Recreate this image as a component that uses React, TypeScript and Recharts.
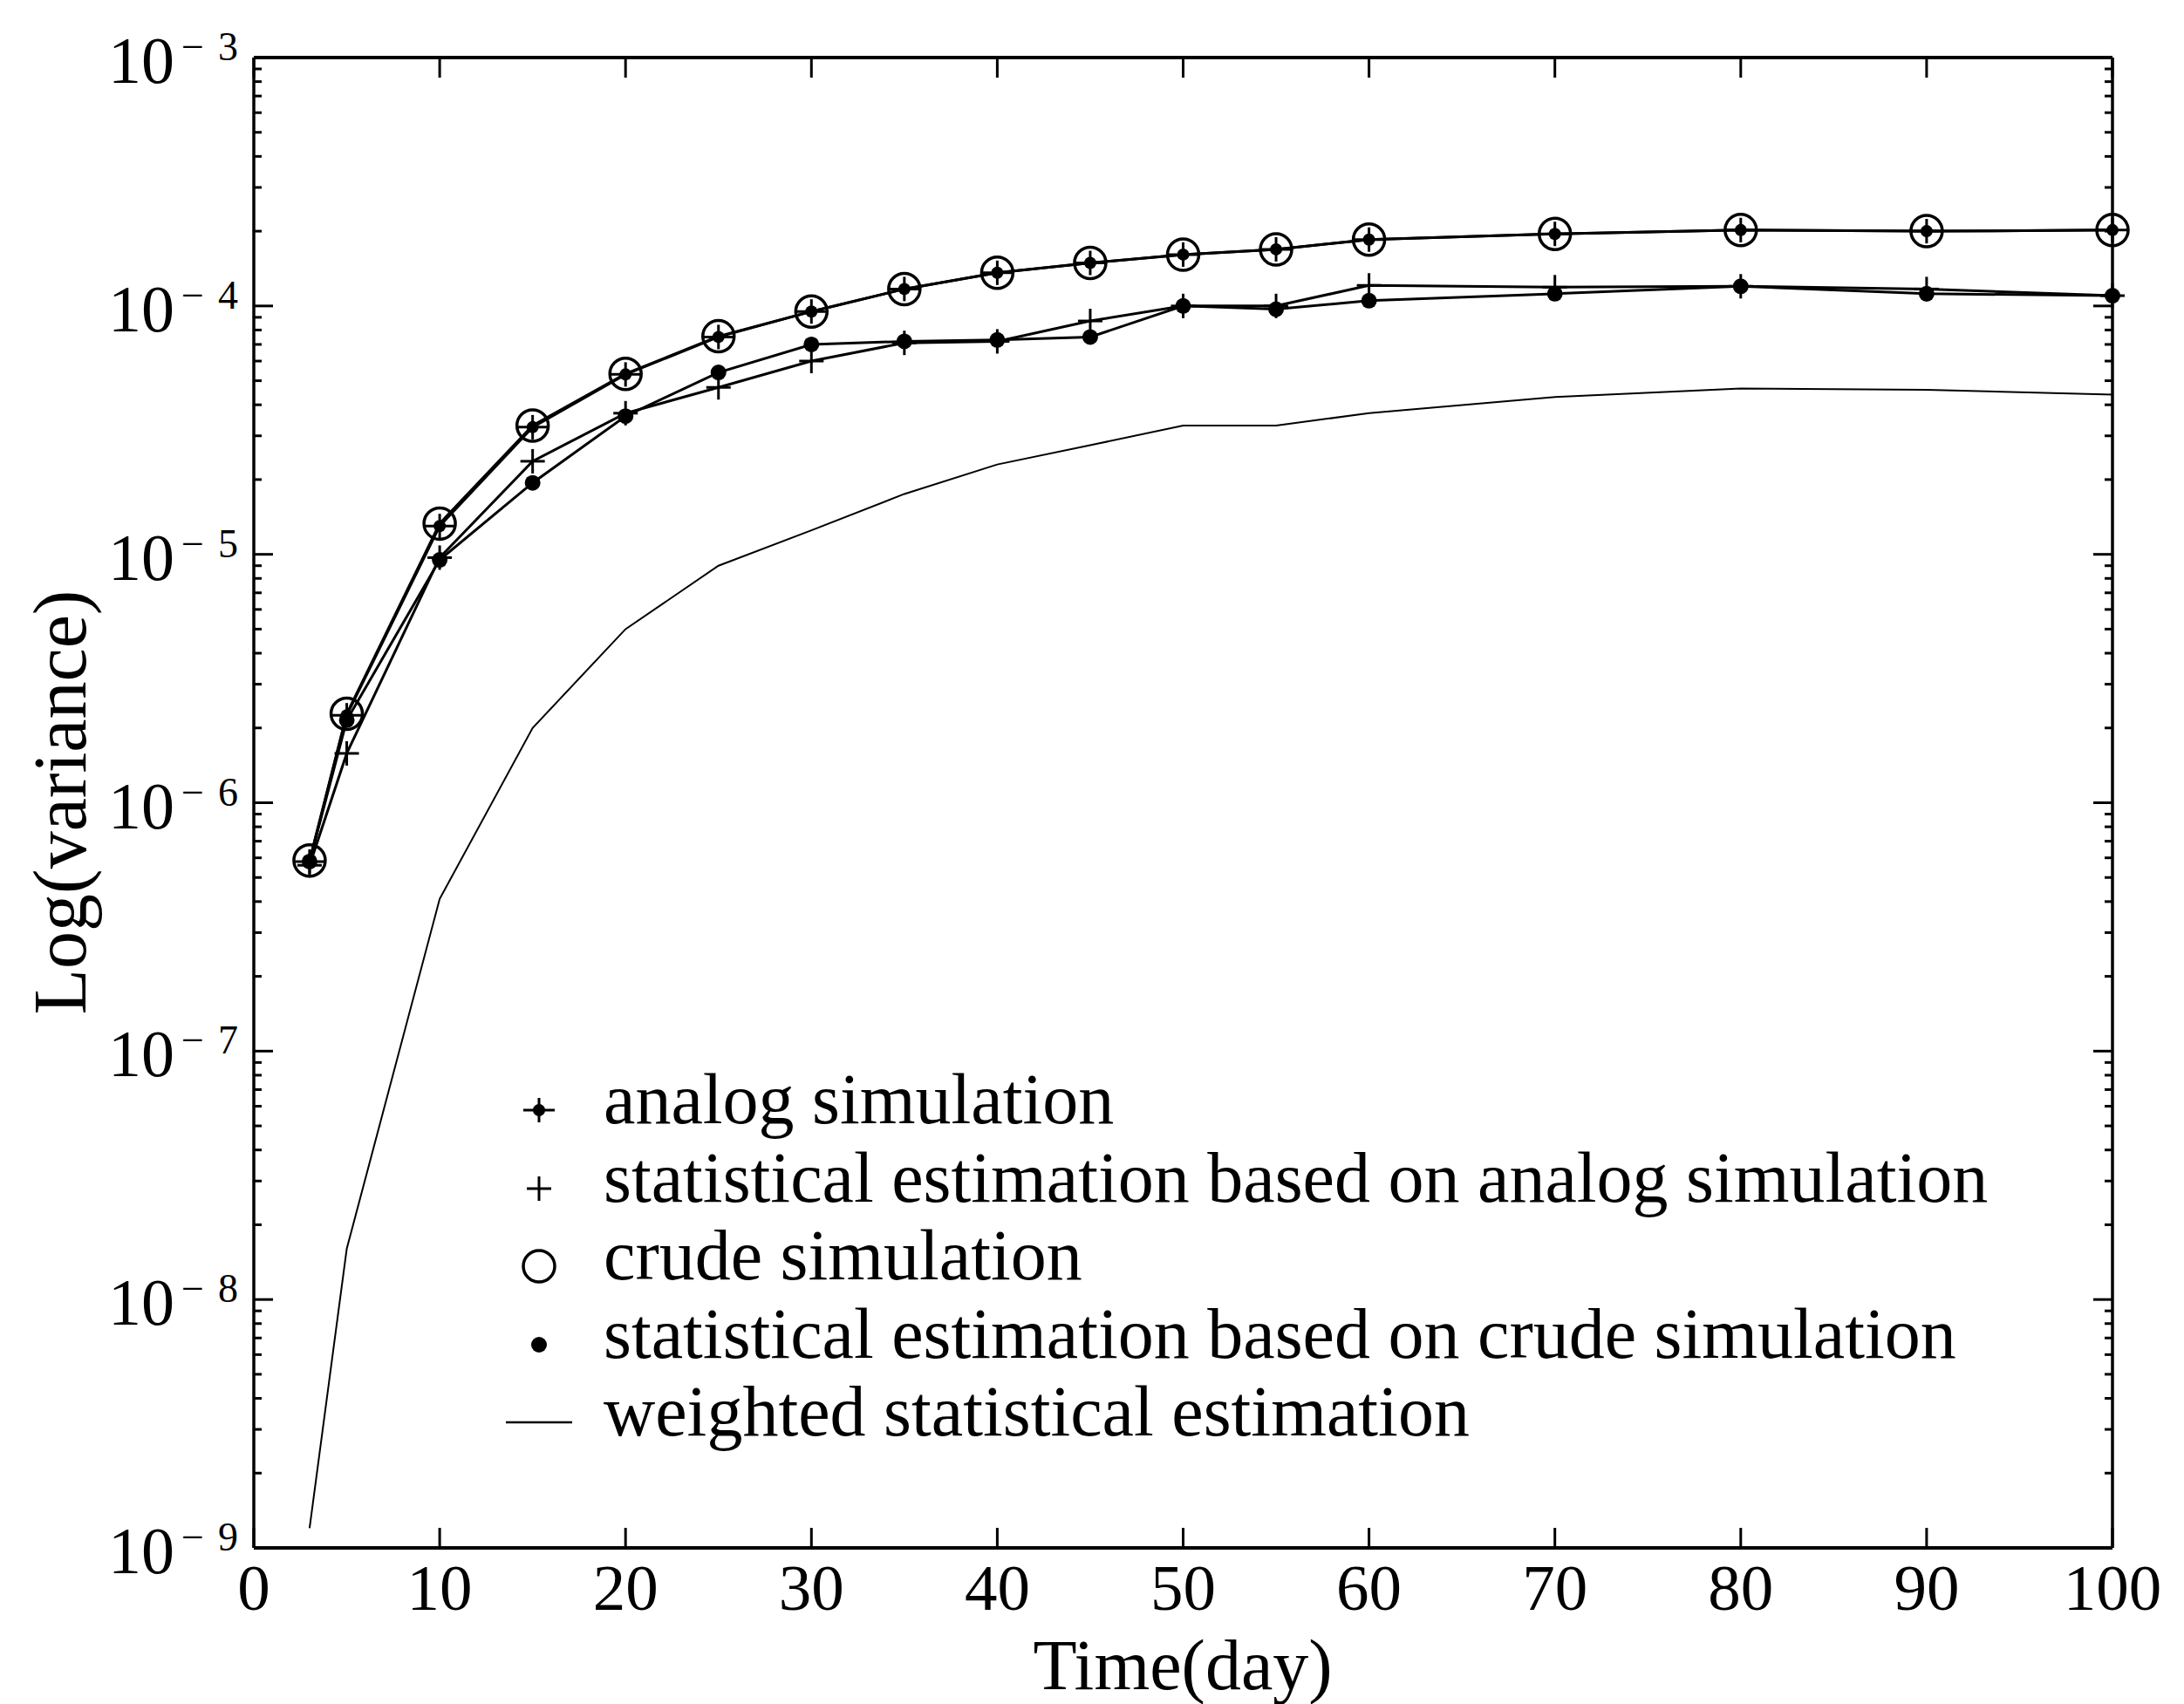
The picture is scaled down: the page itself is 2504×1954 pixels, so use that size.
import React from 'react';
import { LineChart, Line, XAxis, YAxis, Legend, Label } from 'recharts';

const FONT = '"Liberation Serif", "Times New Roman", serif';

// sampling days (x axis)
const days = [3, 5, 10, 15, 20, 25, 30, 35, 40, 45, 50, 55, 60, 70, 80, 90, 100];

// variance values
const analogSimulation = [5.8e-7, 2.25e-6, 1.3e-5, 3.25e-5, 5.3e-5, 7.5e-5, 9.5e-5, 1.17e-4, 1.36e-4, 1.49e-4, 1.61e-4, 1.69e-4, 1.85e-4, 1.95e-4, 2.02e-4, 2.0e-4, 2.02e-4];
const statAnalog = [5.6e-7, 1.58e-6, 9.7e-6, 2.37e-5, 3.7e-5, 4.7e-5, 6.0e-5, 7.1e-5, 7.2e-5, 8.7e-5, 1.0e-4, 1.0e-4, 1.21e-4, 1.19e-4, 1.2e-4, 1.17e-4, 1.1e-4];
const crudeSimulation = [5.85e-7, 2.28e-6, 1.33e-5, 3.3e-5, 5.33e-5, 7.55e-5, 9.5e-5, 1.17e-4, 1.36e-4, 1.49e-4, 1.61e-4, 1.69e-4, 1.85e-4, 1.95e-4, 2.02e-4, 2.0e-4, 2.02e-4];
const statCrude = [5.8e-7, 2.15e-6, 9.5e-6, 1.94e-5, 3.6e-5, 5.4e-5, 7.0e-5, 7.2e-5, 7.3e-5, 7.5e-5, 1.0e-4, 9.7e-5, 1.05e-4, 1.12e-4, 1.2e-4, 1.12e-4, 1.1e-4];
const weightedEstimation = [1.2e-9, 1.6e-8, 4.1e-7, 2.0e-6, 5.0e-6, 9.0e-6, 1.25e-5, 1.75e-5, 2.3e-5, 2.75e-5, 3.3e-5, 3.3e-5, 3.7e-5, 4.3e-5, 4.65e-5, 4.6e-5, 4.4e-5];

const xTicks = [0, 10, 20, 30, 40, 50, 60, 70, 80, 90, 100];
const yMajorTicks = [1e-9, 1e-8, 1e-7, 1e-6, 1e-5, 1e-4, 1e-3];
const yMinorTicks: number[] = [];
yMajorTicks.slice(0, -1).forEach((d) => {
  for (let m = 2; m <= 9; m++) yMinorTicks.push(m * d);
});
const yTicks = [...yMajorTicks, ...yMinorTicks];

const legendNames = [
  'analog simulation',
  'statistical estimation based on analog simulation',
  'crude simulation',
  'statistical estimation based on crude simulation',
  'weighted statistical estimation',
];
const legendMarkers = ['star', 'plus', 'circle', 'dot', 'line'];

const data = days.map((day, i) => ({
  day,
  analog: analogSimulation[i],
  statAnalog: statAnalog[i],
  crude: crudeSimulation[i],
  statCrude: statCrude[i],
  weighted: weightedEstimation[i],
}));

const renderMarker = (kind: string, cx: number, cy: number) => {
  switch (kind) {
    case 'star':
      return (
        <g>
          <circle cx={cx} cy={cy} r={7} fill="#000" />
          <line x1={cx - 18} y1={cy} x2={cx + 18} y2={cy} stroke="#000" strokeWidth={3} />
          <line x1={cx} y1={cy - 14} x2={cx} y2={cy + 14} stroke="#000" strokeWidth={3} />
        </g>
      );
    case 'plus':
      return (
        <g>
          <line x1={cx - 14} y1={cy} x2={cx + 14} y2={cy} stroke="#000" strokeWidth={3} />
          <line x1={cx} y1={cy - 14} x2={cx} y2={cy + 14} stroke="#000" strokeWidth={3} />
        </g>
      );
    case 'circle':
      return <circle cx={cx} cy={cy} r={18} fill="none" stroke="#000" strokeWidth={3.5} />;
    case 'dot':
      return <circle cx={cx} cy={cy} r={9} fill="#000" />;
    default:
      return <line x1={cx - 38} y1={cy} x2={cx + 38} y2={cy} stroke="#000" strokeWidth={2.5} />;
  }
};

const dotOf = (kind: string) => (p: any) => (
  <g key={`${kind}-${p.index}`}>{renderMarker(kind, p.cx, p.cy)}</g>
);

const isMajor = (v: number) => {
  const e = Math.log10(v);
  return Math.abs(e - Math.round(e)) < 1e-6;
};

const LeftTick = (props: any) => {
  const { x, y, payload } = props;
  const v = payload.value;
  const major = isMajor(v);
  return (
    <g>
      <line x1={x} y1={y} x2={x + (major ? 22 : 9)} y2={y} stroke="#000" strokeWidth={3} />
      {major && (
        <g fontFamily={FONT} fill="#000">
          <text x={x - 91} y={y + 29} textAnchor="end" fontSize={76}>10</text>
          <text x={x - 83} y={y + 3} fontSize={46}>
            −<tspan dx={16}>{-Math.round(Math.log10(v))}</tspan>
          </text>
        </g>
      )}
    </g>
  );
};

const RightTick = (props: any) => {
  const { x, y, payload } = props;
  const major = isMajor(payload.value);
  return <line x1={x} y1={y} x2={x - (major ? 22 : 9)} y2={y} stroke="#000" strokeWidth={3} />;
};

const BottomTick = (props: any) => {
  const { x, y, payload } = props;
  return (
    <g>
      <line x1={x} y1={y} x2={x} y2={y - 23} stroke="#000" strokeWidth={3} />
      <text x={x} y={y + 71} textAnchor="middle" fontSize={75} fontFamily={FONT} fill="#000">
        {payload.value}
      </text>
    </g>
  );
};

const TopTick = (props: any) => {
  const { x, y } = props;
  return <line x1={x} y1={y} x2={x} y2={y + 23} stroke="#000" strokeWidth={3} />;
};

const LegendBox = () => (
  <div style={{ fontFamily: FONT, fontSize: 82, color: '#000' }}>
    {legendNames.map((name, i) => (
      <div key={name} style={{ display: 'flex', height: 89.5, lineHeight: '89.5px', whiteSpace: 'nowrap' }}>
        <svg width={132} height={89.5} style={{ flex: 'none' }}>
          {renderMarker(legendMarkers[i], 58, 57)}
        </svg>
        <span>{name}</span>
      </div>
    ))}
  </div>
);

const App: React.FC = () => {
  return (
    <div style={{ background: '#fff', width: 2504, height: 1954 }}>
      <style>{'body{margin:0;background:#fff}'}</style>
      <LineChart
        width={2504}
        height={1954}
        data={data}
        margin={{ top: 65, right: 81, bottom: 29, left: 0 }}
      >
        <XAxis
          dataKey="day"
          type="number"
          domain={[0, 100]}
          ticks={xTicks}
          interval={0}
          height={150}
          axisLine={{ stroke: '#000', strokeWidth: 4 }}
          tickLine={false}
          tickSize={0}
          tickMargin={0}
          tick={<BottomTick />}
        >
          <Label
            content={() => (
              <text x={1356} y={1937} textAnchor="middle" fontSize={82} fontFamily={FONT} fill="#000">
                Time(day)
              </text>
            )}
          />
        </XAxis>
        <XAxis
          xAxisId="top"
          orientation="top"
          dataKey="day"
          type="number"
          domain={[0, 100]}
          ticks={xTicks}
          interval={0}
          height={1}
          axisLine={{ stroke: '#000', strokeWidth: 4 }}
          tickLine={false}
          tickSize={0}
          tickMargin={0}
          tick={<TopTick />}
        />
        <YAxis
          scale="log"
          type="number"
          domain={[1e-9, 1e-3]}
          allowDataOverflow
          ticks={yTicks}
          interval={0}
          width={291}
          axisLine={{ stroke: '#000', strokeWidth: 3.5 }}
          tickLine={false}
          tickSize={0}
          tickMargin={0}
          tick={<LeftTick />}
        >
          <Label
            content={() => (
              <text
                x={98}
                y={920}
                transform="rotate(-90 98 920)"
                textAnchor="middle"
                fontSize={86}
                fontFamily={FONT}
                fill="#000"
              >
                Log(variance)
              </text>
            )}
          />
        </YAxis>
        <YAxis
          yAxisId="right"
          orientation="right"
          scale="log"
          type="number"
          domain={[1e-9, 1e-3]}
          allowDataOverflow
          ticks={yTicks}
          interval={0}
          width={1}
          axisLine={{ stroke: '#000', strokeWidth: 3.5 }}
          tickLine={false}
          tickSize={0}
          tickMargin={0}
          tick={<RightTick />}
        />
        <Line
          dataKey="weighted"
          type="linear"
          stroke="#000"
          strokeWidth={2}
          dot={false}
          activeDot={false}
          isAnimationActive={false}
        />
        <Line
          dataKey="statCrude"
          type="linear"
          stroke="#000"
          strokeWidth={3}
          dot={dotOf('dot')}
          activeDot={false}
          isAnimationActive={false}
        />
        <Line
          dataKey="statAnalog"
          type="linear"
          stroke="#000"
          strokeWidth={3}
          dot={dotOf('plus')}
          activeDot={false}
          isAnimationActive={false}
        />
        <Line
          dataKey="crude"
          type="linear"
          stroke="#000"
          strokeWidth={3}
          dot={dotOf('circle')}
          activeDot={false}
          isAnimationActive={false}
        />
        {/* top / right axes share the same domains, so this series lands in the same place */}
        <Line
          dataKey="analog"
          xAxisId="top"
          yAxisId="right"
          type="linear"
          stroke="#000"
          strokeWidth={3}
          dot={dotOf('star')}
          activeDot={false}
          isAnimationActive={false}
        />
        <Legend
          layout="vertical"
          align="center"
          verticalAlign="middle"
          wrapperStyle={{ position: 'absolute', left: 560, top: 1216, width: 1900, height: 450 }}
          content={() => <LegendBox />}
        />
      </LineChart>
    </div>
  );
};

export default App;
